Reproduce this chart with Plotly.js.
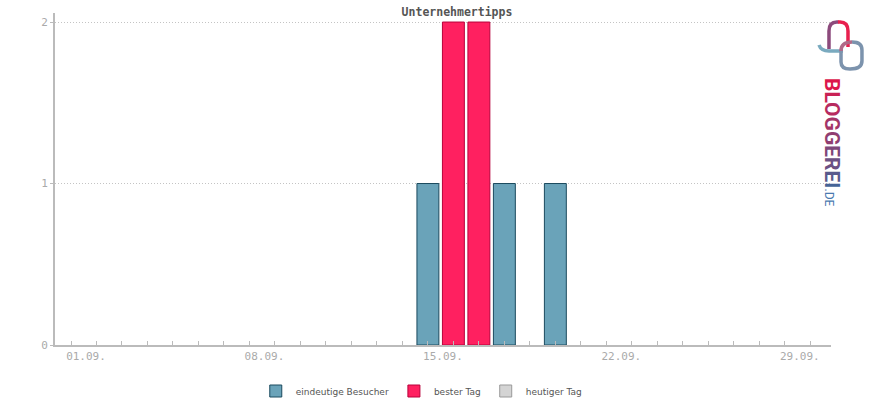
<!DOCTYPE html>
<html>
<head>
<meta charset="utf-8">
<script src="https://cdn.plot.ly/plotly-3.0.1.min.js"></script>
<style>html,body{margin:0;padding:0;background:#fff}#chart{width:870px;height:400px}</style>
</head>
<body>
<div id="chart"></div>
<script>
// ---- data ----
const chartTitle = 'Unternehmertipps';
const dates = ['2023-09-15', '2023-09-16', '2023-09-17', '2023-09-18', '2023-09-20'];
const besucher = [1, 2, 2, 1, 1];
const heuteDates = [];
const heuteValues = [];
const seriesNames = ['eindeutige Besucher', 'bester Tag', 'heutiger Tag'];
const tickStart = '2023-09-01';
const xRange = ['2023-08-31 08:56', '2023-09-30 19:30'];

// ---- derived ----
const best = Math.max(...besucher);
const normX = [], normY = [], bestX = [], bestY = [];
dates.forEach((d, i) => {
  if (besucher[i] === best) { bestX.push(d); bestY.push(besucher[i]); }
  else { normX.push(d); normY.push(besucher[i]); }
});
const DAY = 86400000;

const traces = [
  { type: 'bar', name: seriesNames[0], x: normX, y: normY, width: 0.86 * DAY,
    marker: { color: '#6aa3b9', line: { color: '#1b4a5e', width: 1 } } },
  { type: 'bar', name: seriesNames[1], x: bestX, y: bestY, width: 0.86 * DAY,
    marker: { color: '#ff2060', line: { color: '#b8003a', width: 1 } } },
  { type: 'bar', name: seriesNames[2], x: heuteDates.length ? heuteDates : [null], y: heuteValues.length ? heuteValues : [null], width: 0.86 * DAY,
    marker: { color: '#d4d4d4', line: { color: '#999999', width: 1 } }, showlegend: true }
];

// logo helpers (pixel -> paper)
const L = 55, R = 831, T = 13, B = 345;
const px = p => ((p - L) / (R - L)).toFixed(4);
const py = p => ((B - p) / (B - T)).toFixed(4);
function path(cmds) {
  return cmds.map(c => c[0] + c.slice(1).map((v, i) => (i % 2 === 0 ? px(v) : py(v))).join(',')).join(' ');
}
const shapes = [
  { type: 'path', xref: 'paper', yref: 'paper', line: { color: '#7aaabf', width: 3.5 },
    path: path([['M', 819, 45], ['Q', 821, 51, 829, 51], ['L', 843, 51]]) },
  { type: 'path', xref: 'paper', yref: 'paper', line: { color: '#8c4a7c', width: 3.5 },
    path: path([['M', 829, 49], ['L', 829, 31], ['Q', 829, 22, 837, 22], ['L', 838.5, 22]]) },
  { type: 'path', xref: 'paper', yref: 'paper', line: { color: '#e8204e', width: 3.5 },
    path: path([['M', 838, 22], ['L', 840, 22], ['Q', 848, 22, 848, 31], ['L', 848, 47]]) },
  { type: 'path', xref: 'paper', yref: 'paper', line: { color: '#7c93ad', width: 3.5 },
    path: path([['M', 841, 50], ['L', 841, 62], ['Q', 841, 69, 850, 69], ['Q', 862, 69, 862, 61], ['L', 862, 50], ['Q', 862, 42, 852, 42]]) },
  { type: 'path', xref: 'paper', yref: 'paper', line: { color: '#b06a88', width: 3.5 },
    path: path([['M', 852, 42], ['Q', 841, 42, 841, 51]]) }
];

const logoLetters = 'BLOGGEREI'.split('');
const c0 = [220, 24, 76], c1 = [70, 100, 150];
const logoText = '<b>' + logoLetters.map((ch, i) => {
  const t = i / (logoLetters.length - 1);
  const c = c0.map((v, k) => Math.round(v + (c1[k] - v) * t));
  return `<span style="color:rgb(${c.join(',')})">${ch}</span>`;
}).join('') + '</b><span style="font-size:12px;color:#4a7ab0">.DE</span>';

const layout = {
  width: 870, height: 400,
  paper_bgcolor: '#ffffff', plot_bgcolor: '#ffffff',
  margin: { l: L, r: 870 - R, t: T, b: 400 - B, pad: 0 },
  title: { text: chartTitle, xref: 'container', yref: 'container', x: 457 / 870, y: 1 - 12 / 400,
    xanchor: 'center', yanchor: 'middle',
    font: { family: 'DejaVu Sans Mono', size: 11.5, color: '#555555', weight: 'bold' } },
  barmode: 'overlay',
  showlegend: true,
  legend: { orientation: 'h', xref: 'container', yref: 'container', x: 0.294, y: 9 / 400,
    xanchor: 'left', yanchor: 'middle', traceorder: 'normal',
    font: { family: 'DejaVu Sans', size: 9, color: '#555555' } },
  xaxis: {
    type: 'date', range: xRange, tick0: tickStart, dtick: 7 * DAY, tickformat: '%d.%m.',
    ticklabelshift: 15, ticks: 'inside', ticklen: 4, tickcolor: '#bbbbbb', tickwidth: 1,
    minor: { tick0: tickStart, dtick: DAY, ticks: 'inside', ticklen: 4, tickcolor: '#bbbbbb', showgrid: false },
    showline: true, linecolor: '#bbbbbb', linewidth: 2, showgrid: false, zeroline: false,
    fixedrange: true,
    tickfont: { family: 'DejaVu Sans Mono', size: 11, color: '#aaaaaa' }
  },
  yaxis: {
    range: [0, 2.056], dtick: 1, tick0: 0, ticks: 'outside', ticklen: 3, tickcolor: '#bbbbbb',
    showline: true, linecolor: '#bbbbbb', linewidth: 2,
    showgrid: true, gridcolor: '#c4c4c4', griddash: '1px,2px', gridwidth: 1, zeroline: false,
    tickfont: { family: 'DejaVu Sans Mono', size: 11, color: '#aaaaaa' }
  },
  shapes: shapes,
  annotations: [{
    text: logoText, xref: 'paper', yref: 'paper', x: px(832), y: py(142),
    textangle: 90, showarrow: false, xanchor: 'center', yanchor: 'middle',
    font: { family: 'Roboto', size: 21 }
  }]
};

Plotly.newPlot('chart', traces, layout, { displayModeBar: false, staticPlot: true });
</script>
</body>
</html>
